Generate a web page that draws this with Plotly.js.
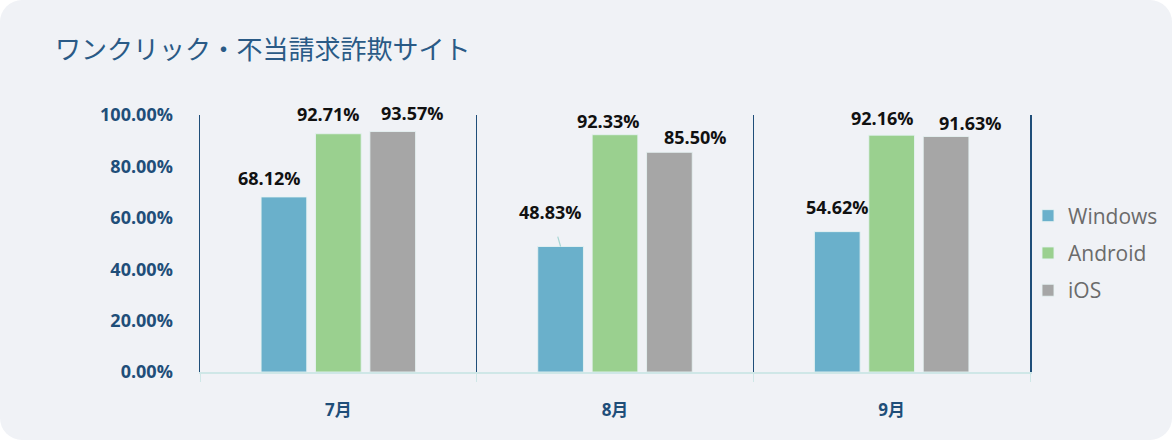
<!DOCTYPE html>
<html><head><meta charset="utf-8">
<script src="https://cdn.plot.ly/plotly-3.0.1.min.js"></script>
<style>
html,body{margin:0;padding:0;background:#ffffff;}
#wrap{width:1172px;height:440px;background:#f0f2f6;border-radius:22px;overflow:hidden;}
#chart{width:1172px;height:440px;}
</style></head>
<body><div id="wrap"><div id="chart"></div></div>
<script>
const categories = ['7月', '8月', '9月'];
const windowsValues = [68.12, 48.83, 54.62];
const androidValues = [92.71, 92.33, 92.16];
const iosValues = [93.57, 85.50, 91.63];
const seriesNames = ['Windows', 'Android', 'iOS'];
const seriesColors = ['#6ab0cb', '#9ad08f', '#a6a6a6'];
const chartTitle = 'ワンクリック・不当請求詐欺サイト';

// label placement (pixel nudges of each data label from its bar top), per series then per category
const labelDx = [[-14, -10, 0], [-9.5, -7, -9.5], [20, 26, 24.5]];
const labelDy = [[-19, -35, -25], [-20, -14, -17], [-19, -15, -14]];
const leaderLine = [[false, true, false], [false, false, false], [false, false, false]];

const margin = {l: 200, r: 142, t: 115, b: 68};
const bargap = 0.41, bargroupgap = 0.16;
const W = 1172, H = 440;

const allValues = [windowsValues, androidValues, iosValues];
const traces = allValues.map((vals, i) => ({
  type: 'bar',
  name: seriesNames[i],
  legendgroup: 'g' + i,
  x: categories,
  y: vals,
  marker: {color: seriesColors[i], line: {color: 'rgba(230,242,242,0.9)', width: 1}},
  hoverinfo: 'none'
}));

// slot offset of each series within a category group, in pixels
const catPx = (W - margin.l - margin.r) / categories.length;
const slotPx = catPx * (1 - bargap) / allValues.length;
const annotations = [];
allValues.forEach((vals, i) => {
  const slotShift = (i - (allValues.length - 1) / 2) * slotPx;
  vals.forEach((v, j) => {
    annotations.push({
      x: categories[j], y: v, xref: 'x', yref: 'y',
      xshift: slotShift,
      text: v.toFixed(2) + '%',
      showarrow: true,
      ax: labelDx[i][j], ay: labelDy[i][j],
      arrowhead: 0, arrowwidth: 1.2,
      arrowcolor: leaderLine[i][j] ? '#a8d6d4' : 'rgba(0,0,0,0)',
      startstandoff: leaderLine[i][j] ? 12 : 0,
      standoff: 0,
      font: {family: 'Open Sans, sans-serif', size: 18, weight: 700, color: '#111111'}
    });
  });
});

const layout = {
  width: W, height: H,
  paper_bgcolor: 'rgba(0,0,0,0)',
  plot_bgcolor: 'rgba(0,0,0,0)',
  margin: Object.assign({autoexpand: false}, margin),
  title: {
    text: chartTitle,
    x: 55/W, xanchor: 'left', xref: 'container',
    y: 1 - 50/H, yanchor: 'middle', yref: 'container',
    font: {family: 'Noto Sans CJK JP, sans-serif', size: 26, color: '#2a5a86'}
  },
  barmode: 'group',
  bargap: bargap,
  bargroupgap: bargroupgap,
  annotations: annotations,
  xaxis: {
    type: 'category',
    range: [-0.5, 2.5],
    tickson: 'boundaries',
    showgrid: true, gridcolor: '#1f4e79', gridwidth: 1.5,
    showline: true, linecolor: '#cfe7e7', linewidth: 1.5,
    ticks: 'outside', ticklen: 8, tickcolor: '#cfe7e7', tickwidth: 1,
    ticklabelstandoff: 22,
    tickfont: {family: 'Open Sans, Noto Sans CJK JP, sans-serif', size: 17, weight: 700, color: '#1f4e79'},
    zeroline: false, fixedrange: true
  },
  yaxis: {
    range: [0, 100],
    dtick: 20,
    tickformat: '.2f', ticksuffix: '%',
    showgrid: false, zeroline: false,
    showline: true, mirror: true, linecolor: '#1f4e79', linewidth: 1.5,
    ticks: 'outside', ticklen: 22, tickcolor: 'rgba(0,0,0,0)',
    tickfont: {family: 'Open Sans, sans-serif', size: 18, weight: 700, color: '#1f4e79'},
    fixedrange: true
  },
  legend: {
    xref: 'container', yref: 'container',
    x: 1028/W, xanchor: 'left',
    y: 1 - 253/H, yanchor: 'middle',
    bgcolor: 'rgba(0,0,0,0)',
    font: {family: 'Open Sans, sans-serif', size: 21, color: '#6b6b6b'},
    itemwidth: 30,
    tracegroupgap: 7
  },
  showlegend: true
};

Plotly.newPlot('chart', traces, layout, {displayModeBar: false, staticPlot: true});
</script>
</body></html>
